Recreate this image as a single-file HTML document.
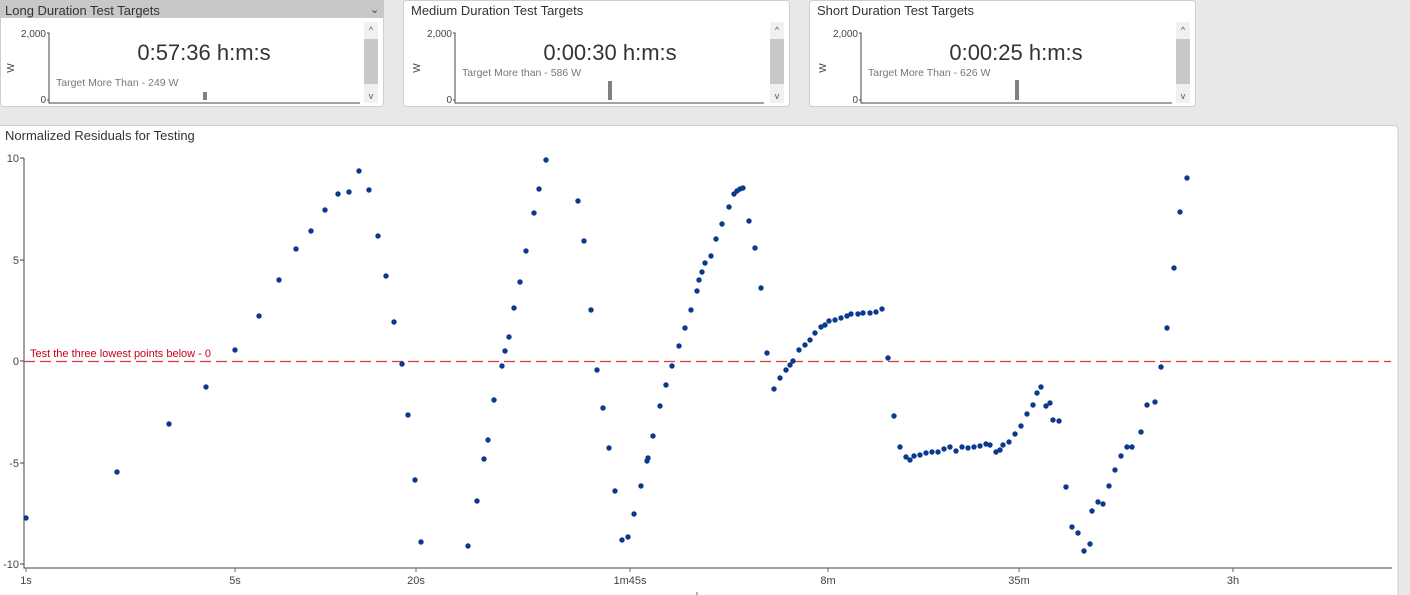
<!DOCTYPE html>
<html><head><meta charset="utf-8"><style>
body{margin:0;background:#e8e8e8;}
svg{display:block;font-family:"Liberation Sans","DejaVu Sans",sans-serif;}
</style></head><body>
<svg width="1410" height="595" viewBox="0 0 1410 595" xmlns="http://www.w3.org/2000/svg">
<rect width="1410" height="595" fill="#e8e8e8"/>
<!-- Long panel -->
<rect x="0.5" y="0.5" width="383" height="106" rx="3" fill="#fff" stroke="#cfcfcf"/>
<rect x="0" y="0" width="384" height="18" fill="#c8c8c8"/>
<text x="5" y="15" font-size="13" fill="#333">Long Duration Test Targets</text>
<text x="370" y="13" font-size="11" fill="#444">⌄</text>
<text x="46" y="37" font-size="10" fill="#444" text-anchor="end">2,000</text>
<text x="46" y="103" font-size="10" fill="#444" text-anchor="end">0</text>
<text x="14" y="68" font-size="10" fill="#444" transform="rotate(-90 14 68)" text-anchor="middle">W</text>
<path d="M47 33H49V103H360M47 100H49" stroke="#444" fill="none"/>
<text x="204" y="60" font-size="22" fill="#333" text-anchor="middle">0:57:36 h:m:s</text>
<text x="56" y="86" font-size="10.5" fill="#777">Target More Than - 249 W</text>
<rect x="203" y="92" width="4" height="8" fill="#808080"/>
<rect x="364" y="22" width="14" height="81" fill="#f0f0f0"/>
<rect x="364" y="39" width="14" height="45" fill="#c8c8c8"/>
<text x="371" y="33" font-size="9" fill="#555" text-anchor="middle">^</text>
<text x="371" y="99" font-size="9" fill="#555" text-anchor="middle">v</text>
<!-- Medium -->
<rect x="403.5" y="0.5" width="386" height="106" rx="3" fill="#fff" stroke="#cfcfcf"/>
<text x="411" y="15" font-size="13" fill="#333">Medium Duration Test Targets</text>
<text x="452" y="37" font-size="10" fill="#444" text-anchor="end">2,000</text>
<text x="452" y="103" font-size="10" fill="#444" text-anchor="end">0</text>
<text x="420" y="68" font-size="10" fill="#444" transform="rotate(-90 420 68)" text-anchor="middle">W</text>
<path d="M453 33H455V103H764M453 100H455" stroke="#444" fill="none"/>
<text x="610" y="60" font-size="22" fill="#333" text-anchor="middle">0:00:30 h:m:s</text>
<text x="462" y="76" font-size="10.5" fill="#777">Target More than - 586 W</text>
<rect x="608" y="81" width="4" height="19" fill="#808080"/>
<rect x="770" y="22" width="14" height="81" fill="#f0f0f0"/>
<rect x="770" y="39" width="14" height="45" fill="#c8c8c8"/>
<text x="777" y="33" font-size="9" fill="#555" text-anchor="middle">^</text>
<text x="777" y="99" font-size="9" fill="#555" text-anchor="middle">v</text>
<!-- Short -->
<rect x="809.5" y="0.5" width="386" height="106" rx="3" fill="#fff" stroke="#cfcfcf"/>
<text x="817" y="15" font-size="13" fill="#333">Short Duration Test Targets</text>
<text x="858" y="37" font-size="10" fill="#444" text-anchor="end">2,000</text>
<text x="858" y="103" font-size="10" fill="#444" text-anchor="end">0</text>
<text x="826" y="68" font-size="10" fill="#444" transform="rotate(-90 826 68)" text-anchor="middle">W</text>
<path d="M859 33H861V103H1172M859 100H861" stroke="#444" fill="none"/>
<text x="1016" y="60" font-size="22" fill="#333" text-anchor="middle">0:00:25 h:m:s</text>
<text x="868" y="76" font-size="10.5" fill="#777">Target More Than - 626 W</text>
<rect x="1015" y="80" width="4" height="20" fill="#808080"/>
<rect x="1176" y="22" width="14" height="81" fill="#f0f0f0"/>
<rect x="1176" y="39" width="14" height="45" fill="#c8c8c8"/>
<text x="1183" y="33" font-size="9" fill="#555" text-anchor="middle">^</text>
<text x="1183" y="99" font-size="9" fill="#555" text-anchor="middle">v</text>
<!-- Main chart panel -->
<rect x="-2" y="125.5" width="1400" height="475" rx="4" fill="#fff" stroke="#cfcfcf"/>
<text x="5" y="140" font-size="13" fill="#333">Normalized Residuals for Testing</text>
<g font-size="11" fill="#444" text-anchor="end">
<text x="19" y="162">10</text><text x="19" y="264">5</text><text x="19" y="365">0</text><text x="19" y="467">-5</text><text x="19" y="568">-10</text>
</g>
<path d="M24 158V568H1392M20 158H24M20 260H24M20 361H24M20 463H24M20 564H24" stroke="#444" fill="none"/>
<path d="M26 568v4M235 568v4M416 568v4M630 568v4M828 568v4M1019 568v4M1233 568v4M697 592v4" stroke="#666"/>
<g font-size="11" fill="#444" text-anchor="middle">
<text x="26" y="584">1s</text><text x="235" y="584">5s</text><text x="416" y="584">20s</text><text x="630" y="584">1m45s</text><text x="828" y="584">8m</text><text x="1019" y="584">35m</text><text x="1233" y="584">3h</text>
</g>
<line x1="24" y1="361.5" x2="1391" y2="361.5" stroke="#e0343f" stroke-width="1.3" stroke-dasharray="11,5"/>
<text x="30" y="357" font-size="11" fill="#c8001e">Test the three lowest points below - 0</text>
<g fill="#0b3a8c" id="pts"></g>
</svg>
<script>
var p=[[26,518],[117,472],[169,424],[206,387],[235,350],[259,316],[279,280],[296,249],[311,231],[325,210],[338,194],[349,192],[359,171],[369,190],[378,236],[386,276],[394,322],[402,364],[408,415],[415,480],[421,542],[468,546],[477,501],[484,459],[488,440],[494,400],[502,366],[505,351],[509,337],[514,308],[520,282],[526,251],[534,213],[539,189],[546,160],[578,201],[584,241],[591,310],[597,370],[603,408],[609,448],[615,491],[622,540],[628,537],[634,514],[641,486],[647,461],[648,458],[653,436],[660,406],[666,385],[672,366],[679,346],[685,328],[691,310],[697,291],[699,280],[702,272],[705,263],[711,256],[716,239],[722,224],[729,207],[734,194],[737,191],[740,189],[743,188],[749,221],[755,248],[761,288],[767,353],[774,389],[780,378],[786,370],[790,365],[793,361],[799,350],[805,345],[810,340],[815,333],[821,327],[825,325],[829,321],[835,320],[841,318],[847,316],[851,314],[858,314],[863,313],[870,313],[876,312],[882,309],[888,358],[894,416],[900,447],[906,457],[910,460],[914,456],[920,455],[926,453],[932,452],[938,452],[944,449],[950,447],[956,451],[962,447],[968,448],[974,447],[980,446],[986,444],[990,445],[996,452],[1000,450],[1003,445],[1009,442],[1015,434],[1021,426],[1027,414],[1033,405],[1037,393],[1041,387],[1046,406],[1050,403],[1053,420],[1059,421],[1066,487],[1072,527],[1078,533],[1084,551],[1090,544],[1092,511],[1098,502],[1103,504],[1109,486],[1115,470],[1121,456],[1127,447],[1132,447],[1141,432],[1147,405],[1155,402],[1161,367],[1167,328],[1174,268],[1180,212],[1187,178]];
var g=document.getElementById('pts'),s='';
p.forEach(function(q){s+='<circle cx="'+q[0]+'" cy="'+q[1]+'" r="2.7"/>';});
g.innerHTML=s;
</script>
</body></html>
